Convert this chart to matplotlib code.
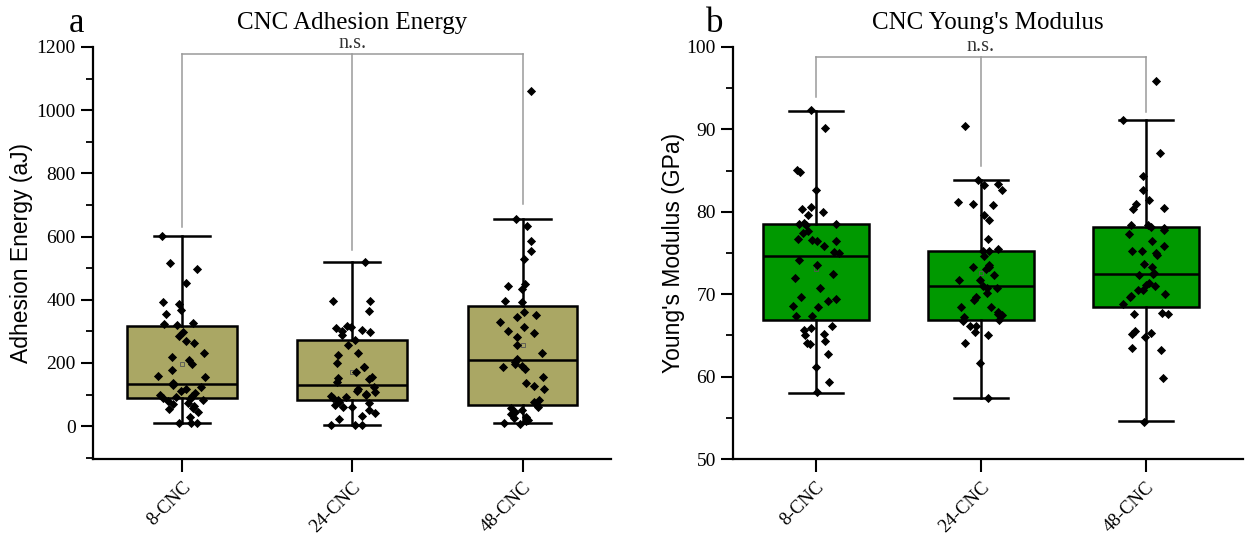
import matplotlib
matplotlib.use("Agg")
import matplotlib.pyplot as plt
import numpy as np
from matplotlib.ticker import MultipleLocator

rng = np.random.default_rng(3)

# ----------------------------------------------------------------------------
# Data
# ----------------------------------------------------------------------------
GROUPS = ["8-CNC", "24-CNC", "48-CNC"]

adh_8 = [602, 517, 498, 454, 394, 388, 367, 355, 325, 322, 320, 298, 285, 269, 262,
         232, 218, 209, 198, 177, 160, 154, 137, 130, 125, 119, 112, 105, 100, 95,
         93, 90, 87, 82, 78, 74, 70, 65, 58, 53, 45, 29, 10, 10, 10]
adh_24 = [518, 397, 397, 364, 318, 315, 310, 305, 300, 299, 290, 272, 257, 232, 225,
          200, 187, 187, 170, 156, 151, 148, 140, 124, 119, 112, 108, 103, 98, 95,
          93, 88, 82, 77, 72, 66, 61, 59, 51, 42, 33, 24, 5, 3, 3]
adh_48 = [1061, 656, 632, 586, 555, 528, 449, 444, 433, 396, 394, 362, 351, 344, 329,
          315, 302, 294, 283, 256, 230, 214, 202, 198, 190, 187, 182, 154, 137, 127,
          119, 82, 75, 66, 61, 56, 51, 46, 40, 29, 27, 20, 15, 10, 8]

ym_8 = [92.3, 90.2, 85.1, 84.8, 82.6, 80.6, 80.0, 79.6, 80.3, 78.5, 78.6, 78.5, 78.4,
        77.7, 77.4, 76.4, 76.5, 76.7, 76.6, 75.9, 75.1, 75.0, 74.1, 73.6, 72.4, 72.0,
        70.8, 69.7, 69.2, 69.4, 68.5, 68.6, 67.3, 67.4, 66.2, 65.6, 65.2, 65.9, 65.0,
        64.3, 64.1, 63.9, 62.8, 61.2, 59.3, 58.1]
ym_24 = [90.4, 83.9, 83.4, 83.2, 82.6, 81.2, 81.0, 80.8, 79.0, 79.6, 76.7, 75.5, 75.3,
         75.2, 74.6, 73.5, 73.3, 73.3, 73.1, 72.3, 71.7, 71.7, 71.0, 70.8, 70.8, 70.1,
         69.6, 69.3, 68.4, 68.4, 67.8, 67.6, 67.5, 67.2, 66.8, 66.9, 66.2, 66.1, 65.4,
         65.1, 64.1, 61.7, 57.4]
ym_48 = [95.9, 91.1, 87.1, 84.3, 82.6, 81.4, 81.0, 80.4, 80.3, 78.4, 78.4, 78.1, 78.0,
         77.8, 77.3, 76.5, 75.9, 75.3, 75.2, 75.0, 74.7, 73.7, 73.3, 72.6, 72.3, 72.5,
         71.3, 71.0, 71.1, 70.5, 70.5, 70.0, 69.8, 69.6, 68.8, 67.7, 67.6, 67.6, 65.5,
         65.2, 65.3, 64.8, 63.2, 63.5, 59.8, 54.5]

# box statistics (Q1, median, Q3, whisker low, whisker high)
adh_q1 = [89, 82, 66]
adh_med = [133, 130, 209]
adh_q3 = [317, 272, 380]
adh_lo = [10, 3, 9]
adh_hi = [602, 519, 656]

ym_q1 = [66.9, 66.9, 68.5]
ym_med = [74.6, 71.0, 72.5]
ym_q3 = [78.5, 75.3, 78.1]
ym_lo = [58.0, 57.4, 54.6]
ym_hi = [92.2, 83.8, 91.1]

# ----------------------------------------------------------------------------
# Plotting
# ----------------------------------------------------------------------------
SERIF = "Liberation Serif"
SANS = "Liberation Sans"
plt.rcParams["font.family"] = SERIF


def panel(ax, data, q1, med, q3, lo, hi, color, ylabel, title, bracket, ns_y):
    pos = np.arange(1, len(GROUPS) + 1)
    stats = [dict(q1=a, med=m, q3=b, whislo=l, whishi=h, mean=np.mean(d), fliers=[])
             for a, m, b, l, h, d in zip(q1, med, q3, lo, hi, data)]
    ax.bxp(stats, positions=pos, widths=0.645, patch_artist=True, showmeans=True,
           showfliers=False,
           boxprops=dict(facecolor=color, edgecolor="black", linewidth=1.8),
           medianprops=dict(color="black", linewidth=1.8),
           whiskerprops=dict(color="black", linewidth=1.8),
           capprops=dict(color="black", linewidth=1.8),
           capwidths=0.33,
           meanprops=dict(marker="s", markersize=3.5, markerfacecolor="none",
                          markeredgecolor="#555555", markeredgewidth=0.6),
           zorder=2)
    for p, d in zip(pos, data):
        d = np.asarray(d, dtype=float)
        xs = p + rng.uniform(-0.14, 0.14, len(d))
        ax.scatter(xs, d, marker="D", s=22, color="black", linewidths=0, zorder=3)

    # significance bracket
    top, drops = bracket
    ax.plot([pos[0], pos[-1]], [top, top], color="#9a9a9a", lw=1.1, zorder=1)
    for p, d in zip(pos, drops):
        ax.plot([p, p], [d, top], color="#9a9a9a", lw=1.1, zorder=1)
    ax.text(pos[1], ns_y, "n.s.", ha="center", va="bottom", fontsize=14.5,
            color="#333333")

    ax.set_xticks(pos)
    ax.set_xticklabels(GROUPS, rotation=45, ha="right", va="top",
                       rotation_mode="anchor")
    ax.set_ylabel(ylabel, family=SANS, fontsize=16.5)
    ax.set_title(title, fontsize=18, pad=13)
    for s in ("top", "right"):
        ax.spines[s].set_visible(False)
    for s in ("left", "bottom"):
        ax.spines[s].set_linewidth(1.6)
    ax.tick_params(which="major", direction="out", length=9, width=1.5,
                   labelsize=14)
    ax.tick_params(which="minor", direction="out", length=5, width=1.3)
    ax.tick_params(axis="x", which="minor", bottom=False)
    ax.tick_params(axis="x", which="major", pad=5, labelsize=13.5)


fig = plt.figure(figsize=(12.47, 5.4), dpi=100)
ax1 = fig.add_axes([0.0746, 0.15, 0.4154, 0.763])
ax2 = fig.add_axes([0.588, 0.15, 0.409, 0.763])

panel(ax1, [adh_8, adh_24, adh_48], adh_q1, adh_med, adh_q3, adh_lo, adh_hi,
      "#aaa764", "Adhesion Energy (aJ)", "CNC Adhesion Energy",
      (1178, (630, 557, 703)), 1182)
ax1.set_ylim(-104, 1200)
ax1.set_xlim(0.476, 3.52)
ax1.yaxis.set_major_locator(MultipleLocator(200))
ax1.yaxis.set_minor_locator(MultipleLocator(100))
ax1.yaxis.set_label_coords(-0.116, 0.5)

panel(ax2, [ym_8, ym_24, ym_48], ym_q1, ym_med, ym_q3, ym_lo, ym_hi,
      "#009900", "Young's Modulus (GPa)", "CNC Young's Modulus",
      (98.8, (93.9, 85.6, 92.1)), 98.95)
ax2.set_ylim(50, 100)
ax2.set_xlim(0.5, 3.59)
ax2.yaxis.set_major_locator(MultipleLocator(10))
ax2.yaxis.set_minor_locator(MultipleLocator(5))
ax2.yaxis.set_label_coords(-0.094, 0.5)

fig.text(77 / 1247, 1 - 32 / 540, "a", ha="center", va="baseline", fontsize=25)
fig.text(715 / 1247, 1 - 32 / 540, "b", ha="center", va="baseline", fontsize=25)

fig.savefig("out.png", dpi=100)
